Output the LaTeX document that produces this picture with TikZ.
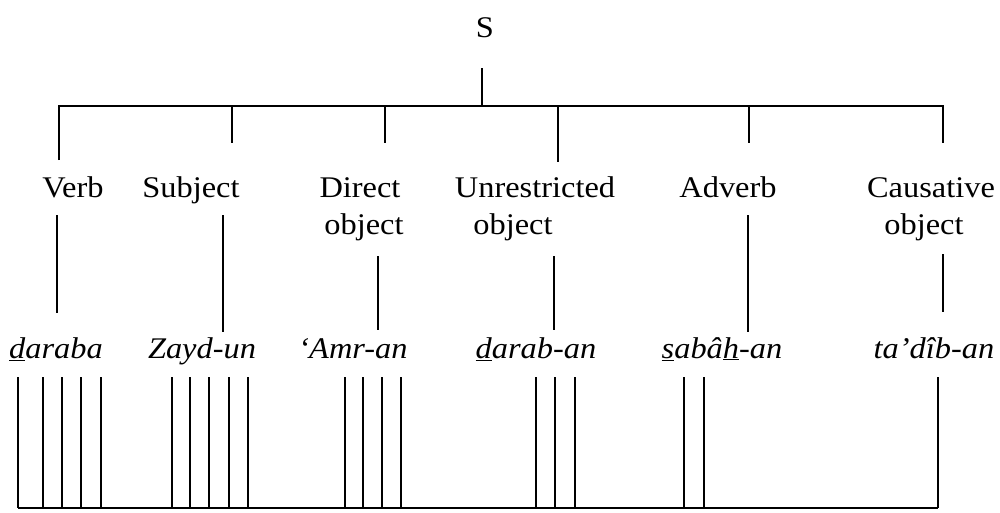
\documentclass[tikz,border=0pt]{standalone}
\usepackage{fontspec}
\setmainfont{Liberation Serif}[FakeStretch=1.08]
\begin{document}
\begin{tikzpicture}[x=1pt,y=-1pt,line width=2pt,
  lbl/.style={font=\fontsize{30}{36}\selectfont,anchor=base,inner sep=0pt},
  wrd/.style={font=\fontsize{30}{36}\selectfont\itshape,anchor=base,inner sep=0pt}]
\useasboundingbox (0,0) rectangle (1000,512);
% labels
\node[lbl] (S) at (485,37) {S};
\node[lbl] (verb) at (73,197) {Verb};
\node[lbl] (subj) at (191,197) {Subject};
\node[lbl] (dir1) at (360,197) {Direct};
\node[lbl] (dir2) at (364,234) {object};
\node[lbl] (unr1) at (535,197) {Unrestricted};
\node[lbl] (unr2) at (513,234) {object};
\node[lbl] (adv) at (728,197) {Adverb};
\node[lbl] (cau1) at (931,197) {Causative};
\node[lbl] (cau2) at (924,234) {object};
% words
\node[wrd] (w1) at (56,358) {\underline{d}araba};
\node[wrd] (w2) at (202,358) {Zayd-un};
\node[wrd] (w3) at (353,358) {‘Amr-an};
\node[wrd] (w4) at (536,358) {\underline{d}arab-an};
\node[wrd] (w5) at (722,358) {\underline{s}abâ\underline{h}-an};
\node[wrd] (w6) at (934,358) {ta’dîb-an};
% top tree
\coordinate (s0) at (482,68);
\coordinate (s1) at (482,106);
\draw (s0) -- (s1);
\coordinate (jv) at (59,106);
\coordinate (jc) at (943,106);
\coordinate (tv) at (59,160);
\coordinate (tc) at (943,143);
\draw (tv) -- (jv) -- (jc) -- (tc);
\foreach \x/\y/\n in {232/143/ts,385/143/td,558/162/tu,749/143/ta}{
  \coordinate (\n0) at (\x,106);
  \coordinate (\n1) at (\x,\y);
  \draw (\n0) -- (\n1);
}
% middle connectors
\foreach \x/\a/\b/\n in {57/215/313/mv,223/215/332/ms,378/256/330/md,554/256/330/mu,748/215/332/ma,943/254/312/mc}{
  \coordinate (\n0) at (\x,\a);
  \coordinate (\n1) at (\x,\b);
  \draw (\n0) -- (\n1);
}
% bottom
\coordinate (bl) at (18,508);
\coordinate (br) at (938,508);
\foreach \x [count=\i] in {18,43,62,81,101,172,190,209,229,248,345,363,382,401,536,555,575,684,704,938}{
  \coordinate (u\i) at (\x,377);
  \coordinate (d\i) at (\x,508);
  \draw (u\i) -- (d\i);
}
\draw (bl) -- (br);
\end{tikzpicture}
\end{document}
